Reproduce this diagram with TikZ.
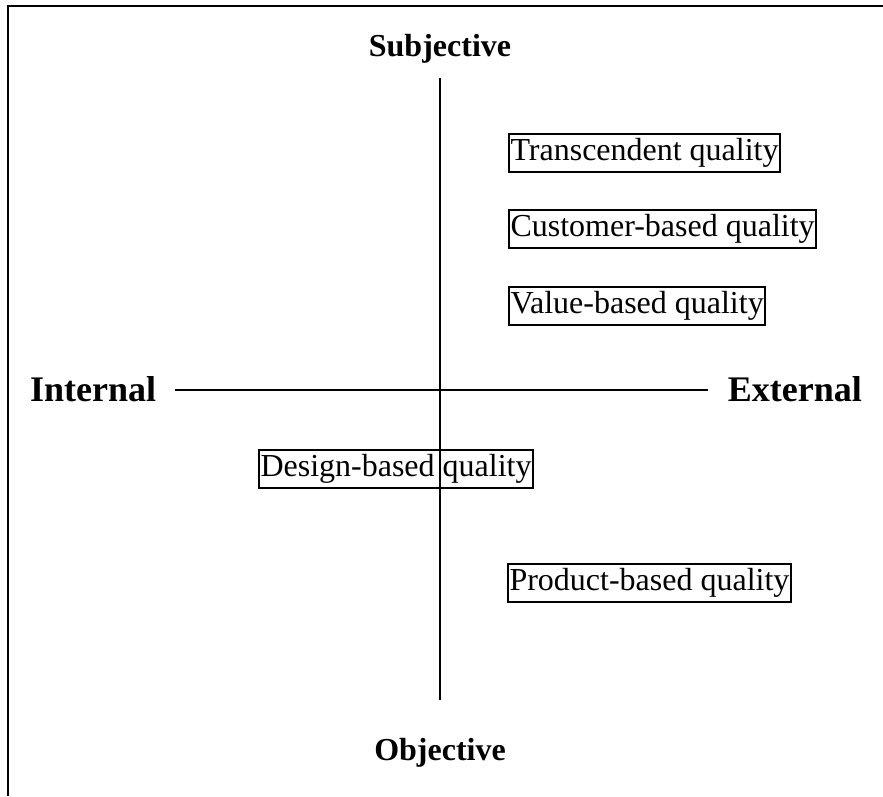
\documentclass[tikz,border=0pt]{standalone}
\usepackage{fontspec}
\setmainfont{Liberation Serif}
\begin{document}
\begin{tikzpicture}[x=1pt,y=-1pt,
  axislabel/.style={font=\fontsize{32}{36}\selectfont\bfseries, inner sep=0pt},
  sidelabel/.style={font=\fontsize{36}{40}\selectfont\bfseries, inner sep=0pt},
  qbox/.style={draw, line width=2pt, font=\fontsize{32}{36}\selectfont, inner xsep=1.5pt, inner ysep=3.5pt, text height=23pt, text depth=8pt, anchor=west},
  axisline/.style={line width=2pt}]
\useasboundingbox (0,0) rectangle (883,796);
% frame (top and left only)
\draw[line width=2.2pt] (883,6) -- (8,6) -- (8,796);
% axes
\coordinate (top) at (440,78);
\coordinate (bot) at (440,700);
\coordinate (lft) at (175,390);
\coordinate (rgt) at (708,390);
\draw[axisline] (top) -- (bot);
\draw[axisline] (lft) -- (rgt);
% axis labels
\node[axislabel, anchor=base] (subj) at (440,56) {Subjective};
\node[axislabel, anchor=base] (obj) at (440,760) {Objective};
\node[sidelabel, anchor=base west] (int) at (30,401) {Internal};
\node[sidelabel, anchor=base east] (ext) at (862,401) {External};
% quality boxes
\node[qbox] (trans) at (508,153) {Transcendent quality};
\node[qbox] (cust) at (508,228.5) {Customer-based quality};
\node[qbox] (val) at (508,305.5) {Value-based quality};
\node[qbox] (des) at (258,469) {Design-based quality};
\node[qbox] (prod) at (507,582.5) {Product-based quality};
\end{tikzpicture}
\end{document}
